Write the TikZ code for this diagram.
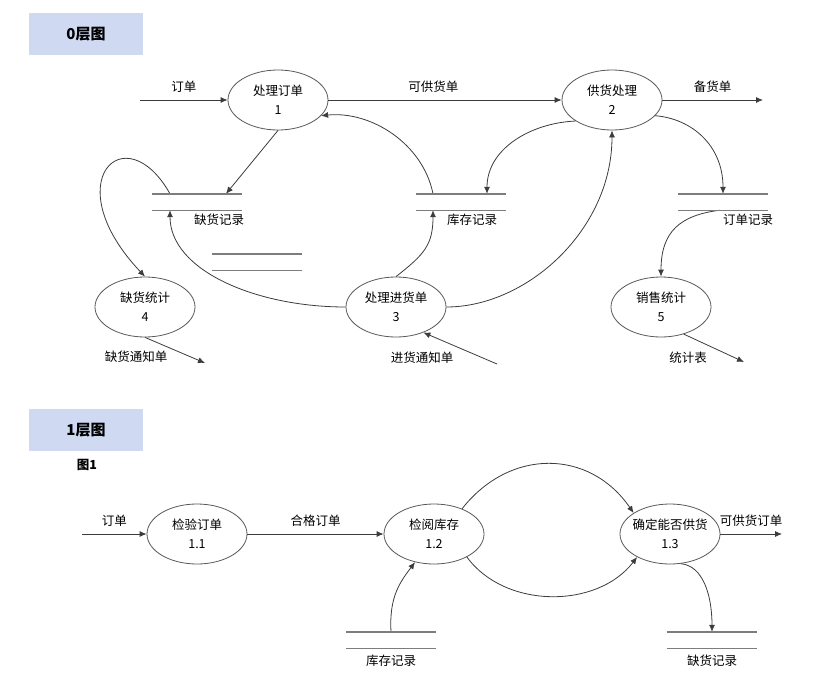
\documentclass[tikz,border=0pt]{standalone}
\usepackage{fontspec}
\setmainfont{Noto Sans CJK SC}
\usetikzlibrary{arrows.meta,shapes.geometric}
\definecolor{hdrblue}{RGB}{207,217,242}
\definecolor{lnk}{RGB}{60,60,60}
\definecolor{storegray}{RGB}{125,125,125}
\begin{document}
\begin{tikzpicture}[x=1pt,y=-1pt,>={Latex[length=7pt,width=6pt]},
  every node/.style={font=\fontsize{12.5}{19}\selectfont},
  hdr/.style={fill=hdrblue,minimum width=114pt,minimum height=42pt,font=\bfseries\fontsize{15}{18}\selectfont},
  proc/.style={ellipse,draw=black!65,line width=0.8pt,minimum width=100pt,minimum height=60pt,inner sep=0pt,align=center,
    execute at begin node={\rule{0pt}{15pt}}},
  store/.style={minimum width=90pt,minimum height=16pt,inner sep=0pt},
  sline/.style={draw=storegray,line width=1.4pt},
  flow/.style={draw=lnk,line width=0.8pt,->}]
\useasboundingbox (0,0) rectangle (827,688);
% level 0
\node[hdr] (h0) at (86,34) {0层图};
\node[proc] (p1) at (278,100) {处理订单\\1};
\node[proc] (p2) at (612,100) {供货处理\\2};
\node[proc] (p3) at (396,307) {处理进货单\\3};
\node[proc] (p4) at (145,307) {缺货统计\\4};
\node[proc] (p5) at (661,307) {销售统计\\5};
\node[store] (kc) at (197,202) {};
\node[store] (kr) at (461,202) {};
\node[store] (dd) at (723,202) {};
\node[store] (bl) at (257,262) {};
\node (kcl) at (219,220) {缺货记录};
\node (krl) at (472,220) {库存记录};
\node (ddl) at (748,220) {订单记录};
\coordinate (in0) at (140,100);
\coordinate (out0) at (763,100);
\coordinate (o4) at (205,363);
\coordinate (i3) at (497,364);
\coordinate (o5) at (744,362);
\draw[flow] (in0) -- node[above=4pt] {订单} (p1);
\draw[flow] (p1) -- node[pos=0.45,above=4pt] {可供货单} (p2);
\draw[flow] (p2) -- node[above=4pt] {备货单} (out0);
\draw[flow] (p1.south) -- ([xshift=29pt]kc.north);
\draw[flow] ([xshift=-27pt]kc.north) .. controls +(-45,-80) and +(-90,-95) .. (p4.north);
\draw[flow] (p3.west) .. controls +(-90,0) and +(0,60) .. ([xshift=-27pt]kc.south);
\draw[flow] (p3.north) .. controls +(28,-22) and +(0,35) .. ([xshift=-28pt]kr.south);
\draw[flow] ([xshift=-28pt]kr.north) .. controls +(-10,-50) and +(50,-5) .. (p1.-20);
\draw[flow] (p2.210) .. controls +(-45,2) and +(0,-45) .. ([xshift=26pt]kr.north);
\draw[flow] (p3.east) .. controls +(80,0) and +(0,100) .. (p2.south);
\draw[flow] (p2.-20) .. controls +(37,3) and +(0,-48) .. (dd.north);
\draw[flow] ([xshift=-3pt]dd.south) .. controls +(-40,5) and +(0,-45) .. (p5.north);
\draw[flow] (p4.south) -- (o4);
\draw[flow] (i3) -- (p3.-43);
\draw[flow] (p5.-50) -- (o5);
\node (o4l) at (136,357) {缺货通知单};
\node (i3l) at (422,358) {进货通知单};
\node (o5l) at (688,358) {统计表};
% level 1
\node[hdr] (h1) at (86,430) {1层图};
\node[font=\bfseries\fontsize{12.5}{15}\selectfont] (fig1) at (87,465) {图1};
\node[proc] (q1) at (197,534) {检验订单\\1.1};
\node[proc] (q2) at (434,534) {检阅库存\\1.2};
\node[proc] (q3) at (670,534) {\makebox[0pt]{确定能否供货}\\1.3};
\node[store] (k1) at (391,640) {};
\node[store] (k2) at (712,640) {};
\node (k1l) at (391,661) {库存记录};
\node (k2l) at (712,661) {缺货记录};
\coordinate (in1) at (82,534);
\coordinate (out1) at (782,534);
\draw[flow] (in1) -- node[above=4pt] {订单} (q1);
\draw[flow] (q1) -- node[above=4pt] {合格订单} (q2);
\draw[flow] (q3) -- node[above=4pt] {可供货订单} (out1);
\draw[flow] (q2.42) .. controls +(48,-61) and +(-44,-64) .. (q3.150);
\draw[flow] (q2.-35) .. controls +(38,52) and +(-40,52) .. (q3.-145);
\draw[flow] (k1.north) .. controls +(-2,-35) and +(-15,20) .. (q2.-124);
\draw[flow] (q3.-70) .. controls +(22,2) and +(0,-37) .. (k2.north);
\foreach \s in {kc,kr,dd,bl,k1,k2}
  \draw[sline] (\s.north west) -- (\s.north east) (\s.south west) -- (\s.south east);
\end{tikzpicture}
\end{document}
